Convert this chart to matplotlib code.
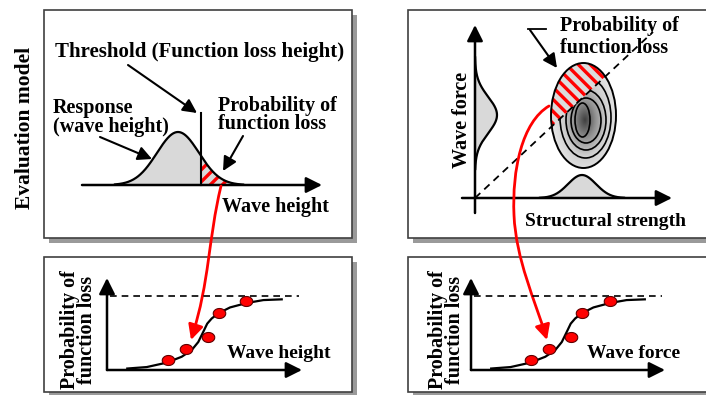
import numpy as np
import matplotlib.pyplot as plt
from matplotlib.patches import Rectangle, Ellipse, Polygon, FancyArrowPatch
from matplotlib.path import Path
from matplotlib.colors import LinearSegmentedColormap

W, H = 706, 395

# lower panels: probability of function loss against load (same sketch in both)
curve_x = [1.04, 2.04, 3.06, 3.83, 4.34, 4.68, 4.94, 5.14, 5.37, 5.71, 6.31, 7.16, 8.02, 8.96]
curve_p = [0.02, 0.04, 0.10, 0.18, 0.27, 0.38, 0.52, 0.63, 0.70, 0.77, 0.85, 0.91, 0.95, 0.96]
dots_x = [3.11, 4.04, 5.16, 5.73, 7.14]
dots_p = [0.13, 0.29, 0.45, 0.78, 0.94]
p_max = 1.0

# upper panels: schematic distributions (picture pixels)
resp_mu, resp_sd, resp_peak = 178, 21, 53
thresh_x = 201
force_mu, force_sd, force_peak = 115, 18, 22
strength_mu, strength_sd, strength_peak = 582, 14, 23

plt.rcParams['font.family'] = 'Liberation Serif'
plt.rcParams['font.weight'] = 'bold'
FS = 14.5
RED = '#ff0000'
GRAY = '#d9d9d9'

fig = plt.figure(figsize=(W / 100, H / 100), dpi=100)
ax = fig.add_axes([0, 0, 1, 1])
ax.set_xlim(0, W)
ax.set_ylim(H, 0)
ax.axis('off')


def arrow(a, start, end, color='k', lw=1.5, ms=14, z=5):
    a.annotate('', xy=end, xytext=start,
               arrowprops=dict(arrowstyle='-|>,head_length=0.6,head_width=0.3',
                               color=color, lw=lw, mutation_scale=ms,
                               shrinkA=0, shrinkB=0), zorder=z,
               annotation_clip=False)


def txt(x, y, s, size=FS, ls=1.0, **kw):
    ax.text(x, y, s, fontsize=size, fontweight='bold', ha=kw.pop('ha', 'left'),
            va='center', linespacing=ls, **kw)


def stripes(clip, x0, x1, y0, y1, sign, step, lw=2.4):
    # sign=+1 : "/" stripes, sign=-1 : "\" stripes (screen orientation)
    span = (x1 - x0) + (y1 - y0)
    for c in np.arange(-span, span, step * np.sqrt(2)):
        xs = np.array([x0 - span, x1 + span])
        if sign > 0:
            ys = (x0 + y1 + c) - xs
        else:
            ys = xs - x0 + y0 + c
        ln, = ax.plot(xs, ys, color=RED, lw=lw, solid_capstyle='butt', zorder=4)
        ln.set_clip_path(clip)


# boxes with shadows
boxes = [(44, 352, 10, 238), (44, 352, 257, 392), (408, 730, 10, 238), (408, 730, 257, 392)]
for l, r, t, b in boxes:
    ax.add_patch(Rectangle((l + 5, t + 5), r - l, b - t, facecolor='#9a9a9a',
                           edgecolor='none', zorder=0))
    ax.add_patch(Rectangle((l, t), r - l, b - t, facecolor='white',
                           edgecolor='#404040', lw=1.2, zorder=1))

# ---------- top left: response distribution ----------
base = 185
gx = np.linspace(resp_mu - 3 * resp_sd, resp_mu + 3.1 * resp_sd, 300)
gy = base - resp_peak * np.exp(-(gx - resp_mu) ** 2 / (2 * resp_sd ** 2))
ax.fill_between(gx, gy, base, color=GRAY, lw=0, zorder=2)
m = gx >= thresh_x
tail = Polygon(np.column_stack([np.r_[thresh_x, gx[m], gx[m][-1]],
                                np.r_[base, gy[m], base]]),
               closed=True, facecolor=GRAY, edgecolor='none', zorder=3)
ax.add_patch(tail)
stripes(tail, thresh_x, gx[-1], 140, base, +1, 8.5)
ax.plot(gx, gy, color='k', lw=1.6, zorder=6)
ax.plot([thresh_x, thresh_x], [113, base], color='k', lw=1.5, zorder=6)
arrow(ax, (82, base), (322, base), lw=1.8, ms=16)

txt(55, 52, 'Threshold (Function loss height)', size=15)
arrow(ax, (128, 65), (197, 113))
txt(53, 117.5, 'Response\n(wave height)', ls=0.95)
arrow(ax, (100, 137), (152, 159))
txt(218, 115, 'Probability of\nfunction loss', ls=0.9)
arrow(ax, (243, 136), (223, 171))
txt(222, 207, 'Wave height')
txt(25, 128, 'Evaluation model', size=15.5, rotation=90, ha='center')

# ---------- top right: load / strength ----------
ox, oy = 475, 198
arrow(ax, (ox, 213), (ox, 25), lw=1.8, ms=16)
arrow(ax, (462, oy), (672, oy), lw=1.8, ms=16)

vy = np.linspace(force_mu - 3.2 * force_sd, force_mu + 3 * force_sd, 300)
vx = ox + force_peak * np.exp(-(vy - force_mu) ** 2 / (2 * force_sd ** 2))
ax.fill_betweenx(vy, ox, vx, color=GRAY, lw=0, zorder=2)
ax.plot(vx, vy, color='k', lw=1.6, zorder=6)

hx = np.linspace(strength_mu - 3 * strength_sd, strength_mu + 3 * strength_sd, 300)
hy = oy - strength_peak * np.exp(-(hx - strength_mu) ** 2 / (2 * strength_sd ** 2))
ax.fill_between(hx, hy, oy, color=GRAY, lw=0, zorder=2)
ax.plot(hx, hy, color='k', lw=1.6, zorder=6)

# joint density ellipse
ecx, ecy, ew, eh = 583.5, 115.5, 65, 105
outer = Ellipse((ecx, ecy), ew, eh, facecolor='none', edgecolor='none', zorder=2)
ax.add_patch(outer)
xs = np.linspace(ecx - ew / 2, ecx + ew / 2, 120)
ys = np.linspace(ecy - eh / 2, ecy + eh / 2, 180)
XX, YY = np.meshgrid(xs, ys)
D = np.sqrt(((XX - 585) / 32) ** 2 + ((YY - 120) / 54) ** 2)
cmap = LinearSegmentedColormap.from_list('g', ['#404040', '#909090', '#cfcfcf', '#e4e4e4'])
im = ax.imshow(np.clip(D, 0, 1), cmap=cmap, vmin=0, vmax=1, origin='upper',
               extent=(xs[0], xs[-1], ys[-1], ys[0]), aspect='auto', zorder=2,
               interpolation='bilinear')
im.set_clip_path(outer)
ax.set_xlim(0, W)
ax.set_ylim(H, 0)
rings = [(585.5, 117.5, 51, 81), (586, 120, 40, 60), (586, 120.5, 30, 45), (582.5, 120, 15, 34)]
for cx, cy, w, h in rings:
    ax.add_patch(Ellipse((cx, cy), w, h, facecolor='none', edgecolor='k', lw=1.2, zorder=3))

slope = (oy - 32) / (653 - ox)
t = np.linspace(0, 2 * np.pi, 600, endpoint=False)
ex = ecx + ew / 2 * np.cos(t)
ey = ecy + eh / 2 * np.sin(t)
above = ey < oy - slope * (ex - ox)
k = np.argmax(above & ~np.roll(above, 1))
ex, ey, above = np.roll(ex, -k), np.roll(ey, -k), np.roll(above, -k)
cap = Polygon(np.column_stack([ex[above], ey[above]]), closed=True,
              facecolor='#dcdcdc', edgecolor='none', zorder=3)
ax.add_patch(cap)
stripes(cap, ecx - ew / 2, ecx + ew / 2, ecy - eh / 2, ecy + eh / 2, -1, 8.5)
ax.add_patch(Ellipse((ecx, ecy), ew, eh, facecolor='none', edgecolor='k', lw=1.4, zorder=6))
ax.plot([ox, 653], [oy, 32], color='k', lw=1.3, ls=(0, (4, 3)), zorder=7)

txt(560, 37, 'Probability of\nfunction loss', ls=1.15)
ax.plot([528, 546], [29, 29], color='k', lw=1.3, zorder=6)
arrow(ax, (530, 30), (557, 68))
txt(462, 120, 'Wave force', rotation=90, ha='center')
txt(525, 222, 'Structural strength', size=14)

# ---------- red links ----------
links = [
    ([(221, 186), (208, 240), (210, 280), (191, 340)],
     [Path.MOVETO, Path.CURVE4, Path.CURVE4, Path.CURVE4]),
    ([(549, 106), (522, 122), (512, 170), (514, 215), (516, 260), (535, 300), (547, 340)],
     [Path.MOVETO] + [Path.CURVE4] * 6),
]
for verts, codes in links:
    ax.add_patch(FancyArrowPatch(path=Path(verts, codes),
                                 arrowstyle='-|>,head_length=0.6,head_width=0.3',
                                 mutation_scale=15, color=RED, lw=2, zorder=8))

# ---------- lower panels ----------
def px_rect(l, r, b, tp):
    return [l / W, 1 - b / H, (r - l) / W, (b - tp) / H]


for left, right, lab_x, xl_x, xlabel in [(107, 302, 79, 227, 'Wave height'),
                                         (471, 665, 447, 587, 'Wave force')]:
    a = fig.add_axes(px_rect(left, right, 370, 278))
    a.patch.set_alpha(0)
    a.set_xlim(0, 10)
    a.set_ylim(0, 1.25)
    a.axis('off')
    arrow(a, (0, 0), (10, 0), lw=1.8, ms=16)
    arrow(a, (0, 0), (0, 1.25), lw=1.8, ms=16)
    a.plot([0.15, 9.85], [p_max, p_max], color='k', lw=1.2, ls=(0, (4, 3)), clip_on=False)
    a.plot(curve_x, curve_p, color='k', lw=1.6, clip_on=False, solid_joinstyle='round')
    dot = Path(np.column_stack([np.cos(t), 0.8 * np.sin(t)]))
    a.plot(dots_x, dots_p, ls='none', marker=dot, ms=9, mfc=RED, mec='#600000',
           mew=0.8, clip_on=False)
    txt(lab_x, 330, 'Probability of\nfunction loss', rotation=90, ha='center', ls=0.8)
    txt(xl_x, 354, xlabel, size=14)

fig.savefig('out.png', dpi=100)
